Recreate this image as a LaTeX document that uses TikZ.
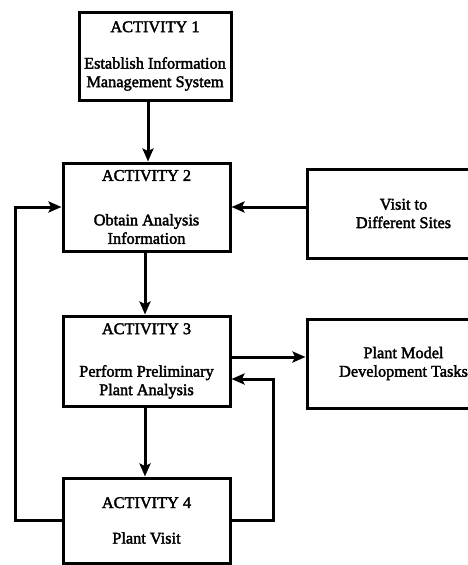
\documentclass[tikz,border=0pt]{standalone}
\usepackage{fontspec}
\setmainfont{Liberation Serif}[FakeBold=2.2]
\usetikzlibrary{arrows.meta}
\tikzset{
  box/.style={draw, line width=3pt, inner sep=0pt, align=center,
    font=\fontsize{16.3}{18.5}\selectfont},
  link/.style={line width=3pt},
  arr/.style={link, -{Stealth[length=13pt,width=11pt,inset=2.5pt]}},
}
\begin{document}
\begin{tikzpicture}[x=1pt,y=-1pt]
\useasboundingbox (0,0) rectangle (468,565);
\clip (0,0) rectangle (468,565);
% activity boxes
\node[box, minimum width=152pt, minimum height=88pt] (a1) at (155,56)
  {ACTIVITY 1\\[18pt]Establish Information\\Management System};
\node[box, minimum width=167pt, minimum height=88pt] (a2) at (146.5,207)
  {ACTIVITY 2\\[26pt]Obtain Analysis\\Information};
\node[box, minimum width=167pt, minimum height=90pt] (a3) at (146.5,361)
  {ACTIVITY 3\\[24pt]Perform Preliminary\\Plant Analysis};
\node[box, minimum width=167pt, minimum height=85pt] (a4) at (146.5,520.5)
  {ACTIVITY 4\\[17pt]Plant Visit};
% side boxes, running past the right margin
\node[box, minimum width=193pt, minimum height=89pt] (sites) at (403.5,213.5)
  {Visit to\\Different Sites};
\node[box, minimum width=193pt, minimum height=89pt] (model) at (403.5,363.5)
  {Plant Model\\Development Tasks};
% ports on the sides of activity 3
\coordinate (a3out) at ([yshift=4pt]a3.east);
\coordinate (a3in) at ([yshift=-18pt]a3.east);
% main flow
\draw[arr] (a1.south -| 148,0) -- (a2.north -| 148,0);
\draw[arr] (a2.south -| 145,0) -- (a3.north -| 145,0);
\draw[arr] (a3.south -| 145,0) -- (a4.north -| 145,0);
% side links
\draw[arr] (sites.west |- a2.east) -- (a2.east);
\draw[arr] (a3out) -- (model.west |- a3out);
% feedback loops from activity 4
\coordinate (lft) at (15,0);
\coordinate (rgt) at (273,0);
\draw[arr] (a4.west) -- (a4.west -| lft) |- (a2.west);
\draw[arr] (a4.east) -- (a4.east -| rgt) |- (a3in);
\end{tikzpicture}
\end{document}
